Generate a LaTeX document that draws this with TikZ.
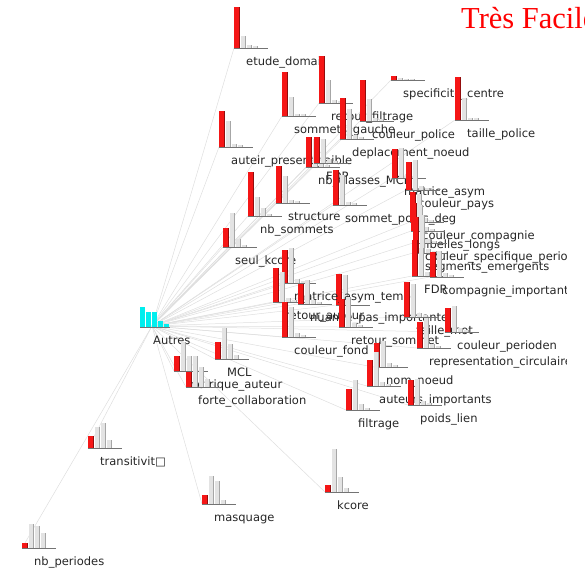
\documentclass[tikz,border=0pt]{standalone}
\usepackage{fontspec}
\setmainfont{DejaVu Sans}
\newfontfamily\titlefont{Liberation Serif}
\definecolor{barred}{RGB}{245,22,22}
\definecolor{barcyan}{RGB}{0,238,238}

% one chart per attribute: name / x / y / red / grey1 / grey2 / grey3 / label
\def\chartlist{%
etude/234/48/41/12/3/2/etude\_domai,
sgauche/282/116/44/19/2/2/sommets\_gauche,
rfiltrage/319/103/47/23/3/2/retour\_filtrage,
cpolice/360/121/41/22/3/2/couleur\_police,
specif/391/80/4/2/1/1/specificite\_centre,
tpolice/455/120/43/22/2/2/taille\_police,
auteir/219/147/36/26/3/2/auteir\_present\_faible,
deplac/340/139/41/30/4/2/deplacement\_noeud,
nbclasses/306/167/30/28/4/2/nb\_classes\_MCL,
fdp/314/163/26/24/4/2/FDP,
masym/392/178/29/30/4/2/matrice\_asym,
cpays/406/190/28/30/4/2/couleur\_pays,
structure/276/203/37/27/3/2/structure,
nbsommets/248/216/44/19/8/2/nb\_sommets,
spoids/333/205/35/30/3/2/sommet\_poids\_deg,
ccomp/410/222/30/28/4/2/couleur\_compagnie,
libelles/411/231/28/26/4/2/libelles\_longs,
cspecif/413/243/26/28/4/2/couleur\_specifique\_periode,
segments/413/253/24/24/4/2/segments\_emergents,
fdr/412/276/36/28/4/2/FDR,
cimport/430/277/25/26/4/2/compagnie\_importante,
seulk/223/247/19/34/8/2/seul\_kcore,
matemp/282/283/33/35/4/2/matrice\_asym\_temp,
rauteur/273/302/34/30/4/2/retour\_auteur,
nuance/298/304/20/24/4/2/nuance\_pas\_importante,
rsommet/339/327/28/30/4/2/retour\_sommet,
cfond/282/337/35/30/4/2/couleur\_fond,
tmot/404/317/35/33/4/2/taille\_mot,
cperiod/445/332/24/26/4/2/couleur\_perioden,
repcirc/417/348/26/30/4/2/representation\_circulaire,
nomnoeud/374/367/24/26/4/2/nom\_noeud,
autimp/367/386/26/34/4/2/auteurs\_importants,
filtrage/346/410/21/30/6/2/filtrage,
poids/408/405/25/26/4/2/poids\_lien,
mcl/215/359/17/31/15/4/MCL,
metaut/174/371/15/29/15/15/metrique\_auteur,
forte/186/387/15/31/20/8/forte\_collaboration,
transit/88/448/12/21/25/8/transitivit□,
masq/202/504/9/28/23/4/masquage,
kcore/325/492/7/43/15/4/kcore,
nbper/22/548/5/24/22/15/nb\_periodes}

\begin{document}
\begin{tikzpicture}[x=1pt,y=-1pt,
  link/.style={black!13,line width=.5pt},
  redbar/.style={fill=barred},
  redside/.style={fill=barred!60!black},
  cyanbar/.style={fill=barcyan},
  greybar/.style={fill=black!11},
  greyside/.style={fill=black!35},
  baseln/.style={black!55,line width=.6pt},
  lbl/.style={anchor=base west,inner sep=0pt,font=\fontsize{11.5}{13}\selectfont,text=black!85}]
\useasboundingbox (0,0) rectangle (585,579);
\node[anchor=base west,inner sep=0pt,text=red,font=\titlefont\fontsize{30.5}{32}\selectfont] (titre) at (461,28) {Très Facile};

\begin{scope}
\clip (0,0) rectangle (566,579);
\coordinate (autres) at (152,326);
% links first, under the charts
\foreach \n/\px/\py/\r/\a/\b/\c/\t in \chartlist {
  \coordinate (\n) at (\px,\py);
  \draw[link] (autres) -- (\n);
}
\coordinate (cachee) at (336,305);
\draw[link] (autres) -- (cachee);
% Autres
\fill[cyanbar] (140,327) rectangle ++(5,-20);
\fill[cyanbar] (146,327) rectangle ++(5,-15);
\fill[cyanbar] (152,327) rectangle ++(5,-15);
\fill[cyanbar] (158,327) rectangle ++(5,-6);
\fill[cyanbar] (164,327) rectangle ++(5,-3);
\draw[baseln] (140,327) -- (170,327);
\node[lbl] (autres-l) at (153,344) {Autres};
% chart whose label is hidden
\fill[redbar] (cachee) rectangle ++(5,-31);
\fill[redside] (cachee) ++(5,0) rectangle ++(1,-31);
\fill[greybar] (cachee) ++(7,0) rectangle ++(4,-30);
\fill[greyside] (cachee) ++(11,0) rectangle ++(1,-30);
\draw[baseln] (cachee) -- ++(34,0);
% charts
\foreach \n/\px/\py/\r/\a/\b/\c/\t in \chartlist {
  \fill[redbar] (\n) rectangle ++(5,-\r);
  \fill[redside] (\n) ++(5,0) rectangle ++(1,-\r);
  \fill[greybar] (\n) ++(7,0) rectangle ++(4,-\a);
  \fill[greyside] (\n) ++(11,0) rectangle ++(1,-\a);
  \fill[greybar] (\n) ++(13,0) rectangle ++(4,-\b);
  \fill[greyside] (\n) ++(17,0) rectangle ++(1,-\b);
  \fill[greybar] (\n) ++(19,0) rectangle ++(4,-\c);
  \fill[greyside] (\n) ++(23,0) rectangle ++(1,-\c);
  \draw[baseln] (\n) -- ++(34,0);
  \node[lbl] (\n-l) at ([shift={(12,17)}]\n) {\t};
}
\end{scope}
\end{tikzpicture}
\end{document}
